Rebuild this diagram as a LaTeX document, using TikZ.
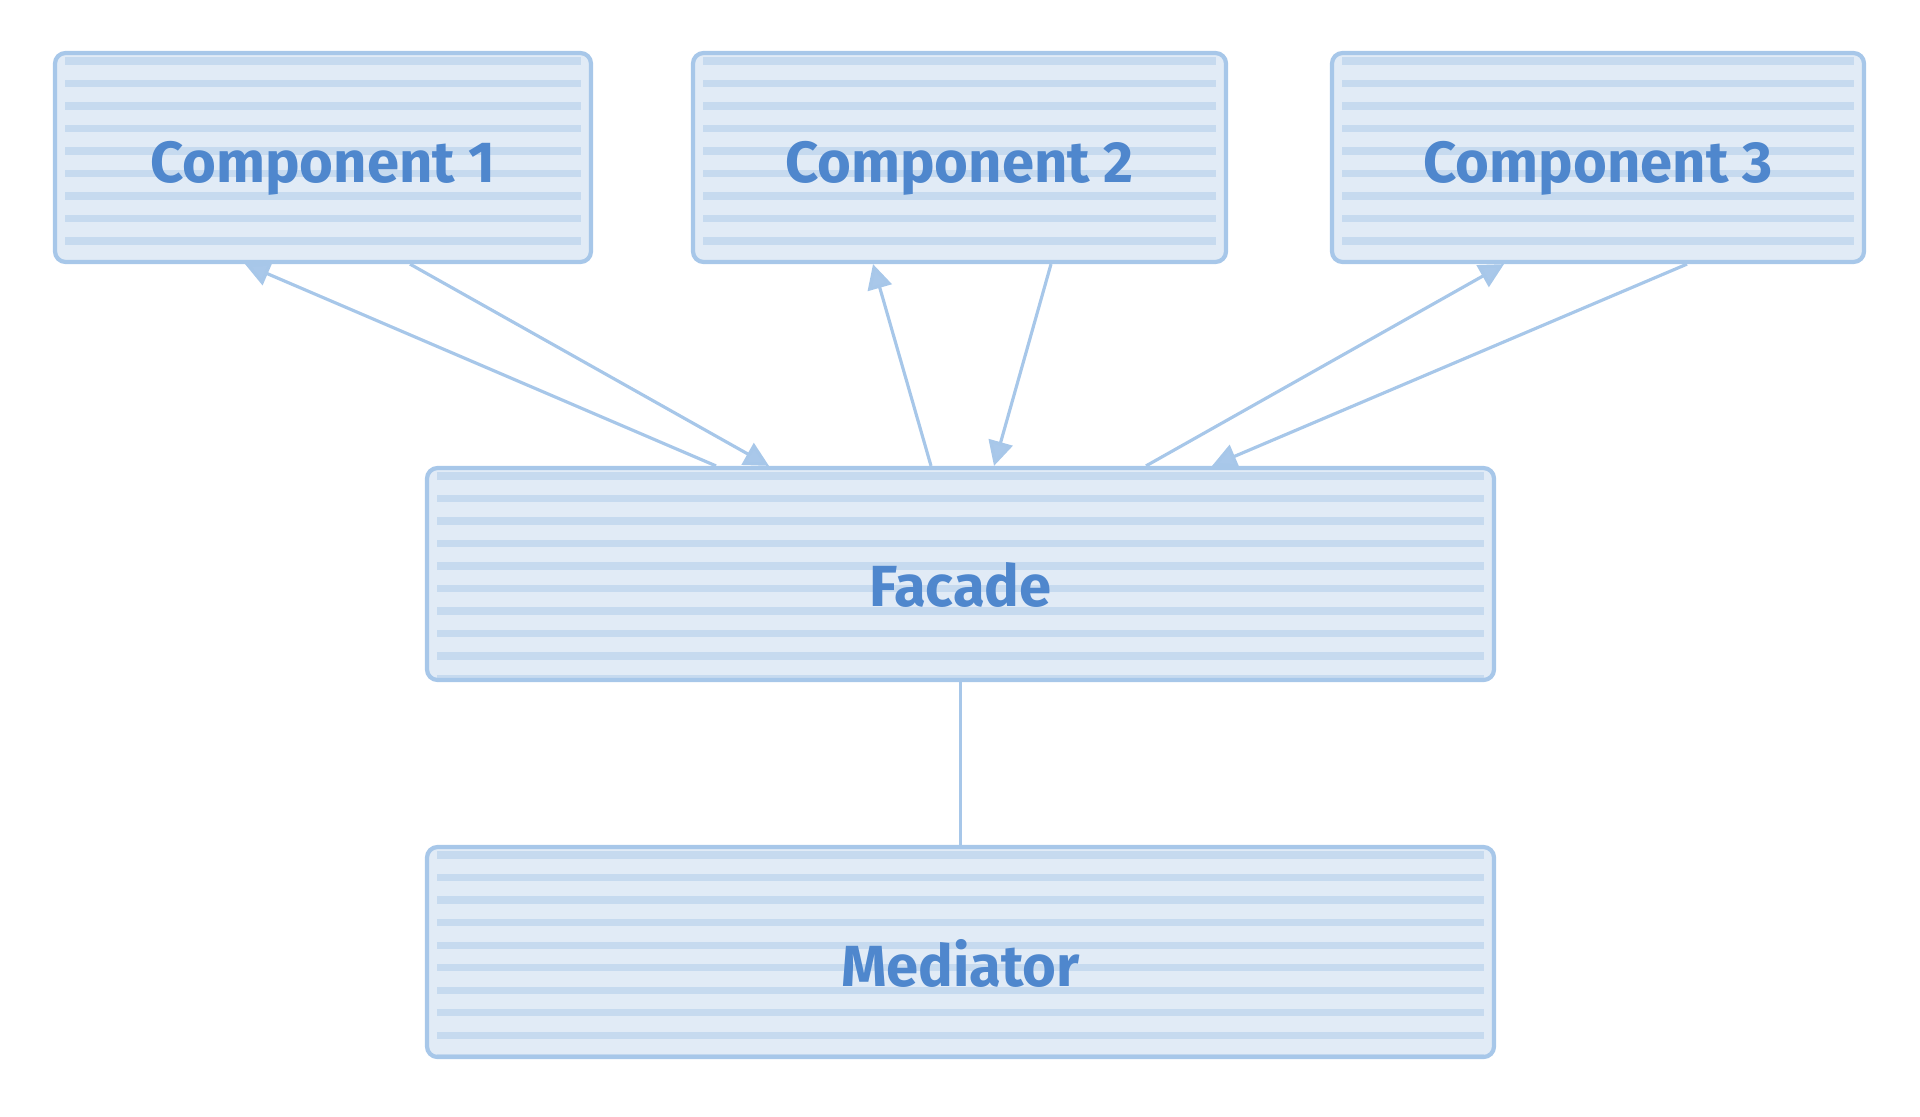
\documentclass[tikz,border=0pt]{standalone}
\usepackage{fontspec}
\setmainfont{Fira Sans}
\usetikzlibrary{arrows.meta,calc}
\definecolor{boxline}{HTML}{A7C7E9}
\definecolor{boxfill}{HTML}{E1EBF6}
\definecolor{hatchcol}{HTML}{C6DAEF}
\definecolor{labelcol}{HTML}{4F87CD}
\definecolor{tipfill}{HTML}{A9C8EA}
\newcommand\boxlabel[1]{\raisebox{-.11cm}[\height][\depth]{#1}}
\tikzset{
  block/.style={draw=boxline, fill=boxfill, line width=1.2pt, rounded corners=3pt,
    text=labelcol, font=\fontsize{16.5}{20}\selectfont\bfseries,
    path picture={\foreach \k in {0,...,9}
      \draw [hatchcol, line width=2pt]
        ([xshift=.1cm, yshift=-.08cm-\k*.225cm]path picture bounding box.north west) --
        ([xshift=-.1cm, yshift=-.08cm-\k*.225cm]path picture bounding box.north east);}},
  link/.style={draw=boxline, line width=.9pt},
  flow/.style={link, -{Triangle[length=7pt, width=7pt, fill=tipfill]}}
}
\begin{document}
\begin{tikzpicture}
\useasboundingbox (0,0) rectangle (19.2,11.16);
\node [block, minimum width=5.36cm, minimum height=2.09cm] (c1) at (3.23,9.585) {\boxlabel{Component 1}};
\node [block, minimum width=5.33cm, minimum height=2.09cm] (c2) at (9.595,9.585) {\boxlabel{Component 2}};
\node [block, minimum width=5.32cm, minimum height=2.09cm] (c3) at (15.98,9.585) {\boxlabel{Component 3}};
\node [block, minimum width=10.67cm, minimum height=2.12cm] (facade) at (9.605,5.42) {\boxlabel{Facade}};
\node [block, minimum width=10.67cm, minimum height=2.10cm] (mediator) at (9.605,1.64) {\boxlabel{Mediator}};
% calls up and back
\draw [flow] ($(facade.north)+(-2.445,0)$) to ($(c1.south)+(-.78,0)$);
\draw [flow] ($(c1.south)+(.87,0)$) to ($(facade.north)+(-1.915,0)$);
\draw [flow] ($(facade.north)+(-.295,0)$) to ($(c2.south)+(-.865,0)$);
\draw [flow] ($(c2.south)+(.915,0)$) to ($(facade.north)+(.335,0)$);
\draw [flow] ($(facade.north)+(1.855,0)$) to ($(c3.south)+(-.94,0)$);
\draw [flow] ($(c3.south)+(.89,0)$) to ($(facade.north)+(2.515,0)$);
\draw [link] (facade) -- (mediator);
\end{tikzpicture}
\end{document}
